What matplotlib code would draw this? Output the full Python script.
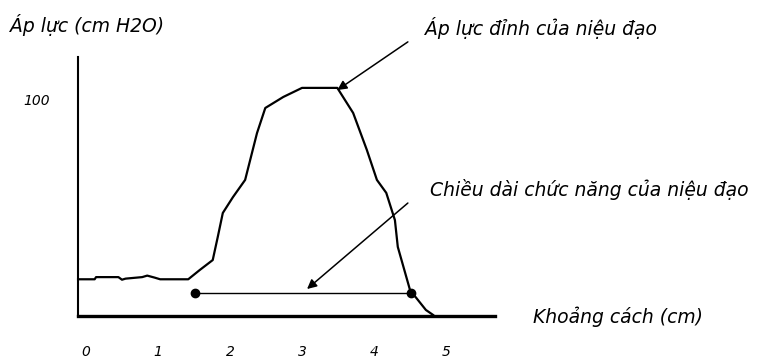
import matplotlib
matplotlib.use('Agg')
import matplotlib.pyplot as plt

# đường áp lực niệu đạo (cm -> cm H2O)
pressure_x = [-0.11, 0.12, 0.14, 0.45, 0.50, 0.55, 0.78, 0.85, 0.95, 1.03, 1.42,
              1.58, 1.76, 1.83, 1.90, 2.04, 2.21, 2.375, 2.49, 2.74, 3.00, 3.49,
              3.71, 3.90, 4.04, 4.17, 4.29, 4.33, 4.50, 4.72, 4.82]
pressure_y = [17, 17, 18, 18, 16.8, 17.3, 18, 18.7, 17.8, 17, 17,
              21.3, 25.9, 36.6, 47.7, 55, 63, 84.7, 96.3, 101.4, 105.6, 105.6,
              94, 76.9, 63, 57, 44.4, 32, 12, 2.8, 0.5]

# chiều dài chức năng: hai điểm đầu/cuối
func_x = [1.51, 4.51]
func_y = [10.6, 10.6]

x_ticks = [0, 1, 2, 3, 4, 5]
y_ticks = [100]

peak_head = (3.49, 104.6)
peak_tail = (4.47, 126.9)
len_head = (3.07, 12.5)
len_tail = (4.47, 52.3)

W, H = 766, 360
fig = plt.figure(figsize=(W / 100, H / 100), dpi=100)
# khung trục: trái 78px, đáy 316px, đỉnh 57px, phải 495px
ax = fig.add_axes([78 / W, (H - 316) / H, (495 - 78) / W, (316 - 57) / H])
ax.set_xlim(-0.111, 5.68)
ax.set_ylim(0, 119.9)

for s in ['top', 'right']:
    ax.spines[s].set_visible(False)
ax.spines['bottom'].set_linewidth(2.4)
ax.spines['left'].set_linewidth(1.5)

font = dict(family='DejaVu Sans', style='italic')

ax.set_xticks(x_ticks)
ax.set_xticklabels([str(t) for t in x_ticks], fontsize=10, **font)
ax.set_yticks(y_ticks)
ax.set_yticklabels([str(t) for t in y_ticks], fontsize=10, **font)
ax.tick_params(axis='x', length=0, pad=21)
ax.tick_params(axis='y', length=0, pad=20)

ax.plot(pressure_x, pressure_y, color='black', lw=1.6, clip_on=False)
ax.plot(func_x, func_y, color='black', lw=1.0, marker='o', markersize=6,
        clip_on=False)

arrow = dict(arrowstyle='-|>', color='black', lw=1.1, mutation_scale=14,
             shrinkA=0, shrinkB=0)
ax.annotate('', xy=peak_head, xytext=peak_tail, arrowprops=arrow,
            annotation_clip=False)
ax.annotate('', xy=len_head, xytext=len_tail, arrowprops=arrow,
            annotation_clip=False)

fs = 13.5
fig.text(10 / W, 1 - 25 / H, 'Áp lực (cm H2O)', fontsize=fs, va='center', **font)
fig.text(425 / W, 1 - 28 / H, 'Áp lực đỉnh của niệu đạo', fontsize=fs,
         va='center', **font)
fig.text(430 / W, 1 - 190 / H, 'Chiều dài chức năng của niệu đạo', fontsize=fs,
         va='center', **font)
fig.text(533 / W, 1 - 317 / H, 'Khoảng cách (cm)', fontsize=fs, va='center', **font)

plt.savefig('out.png', dpi=100)
